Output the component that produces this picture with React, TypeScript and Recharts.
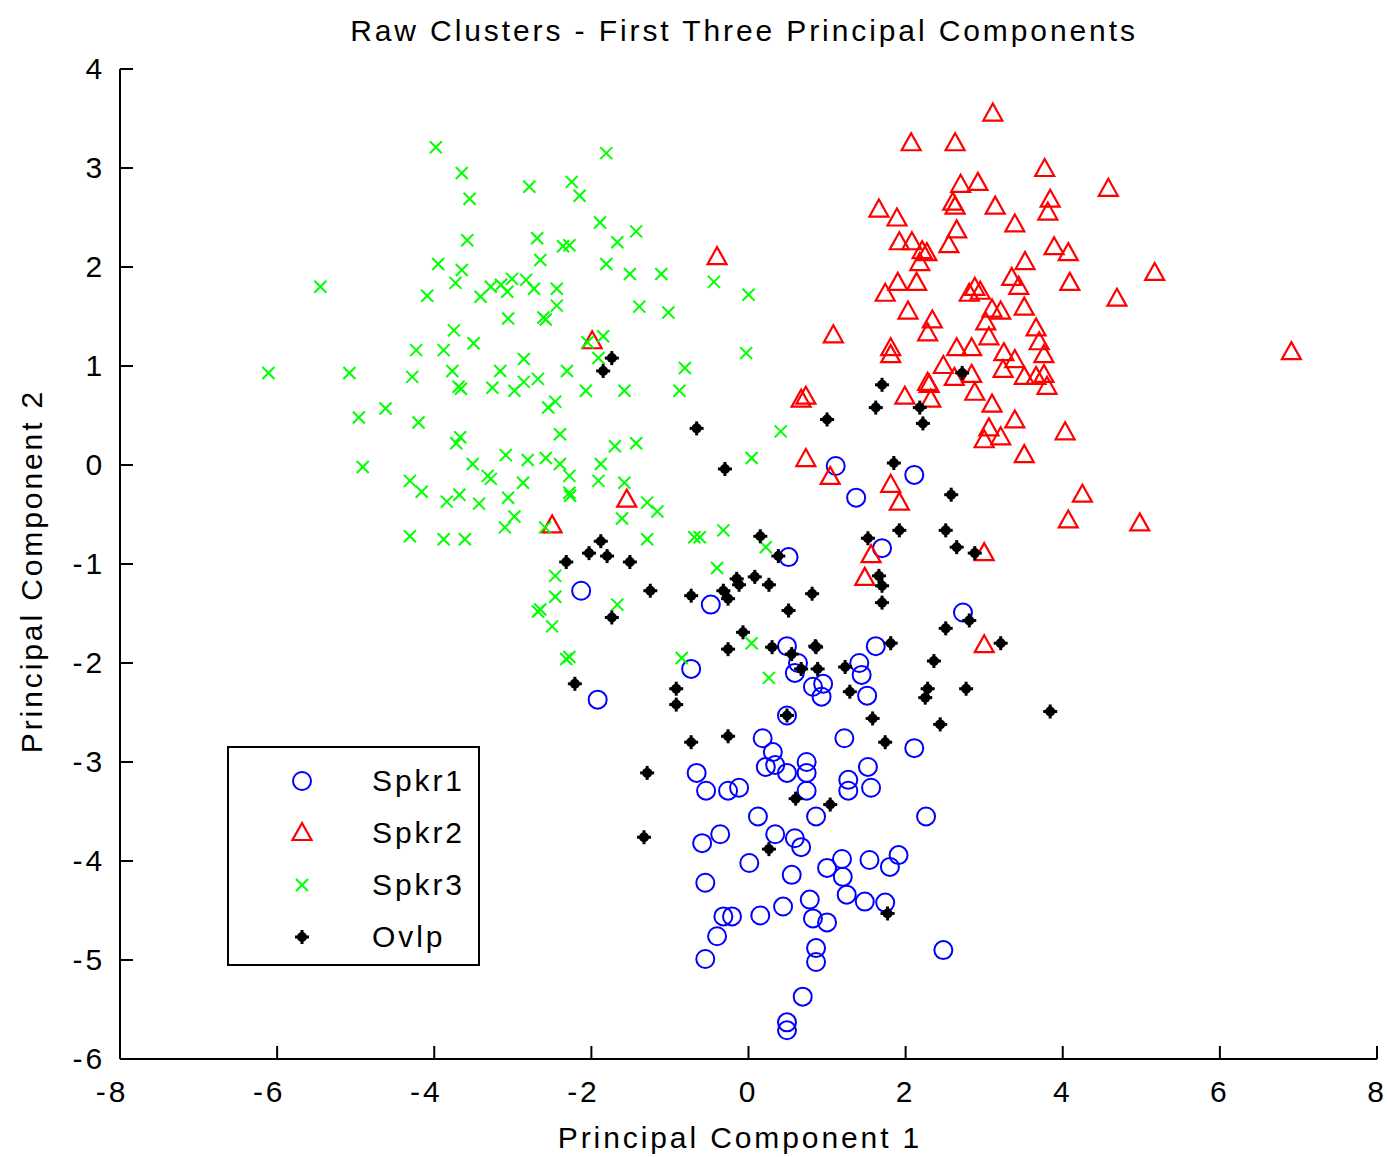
import React from 'react';
import { ScatterChart, Scatter, XAxis, YAxis } from 'recharts';

const xTicks = [-8, -6, -4, -2, 0, 2, 4, 6, 8];
const yTicks = [-6, -5, -4, -3, -2, -1, 0, 1, 2, 3, 4];
const seriesNames = ['Spkr1', 'Spkr2', 'Spkr3', 'Ovlp'];
const titleText = 'Raw Clusters - First Three Principal Components';
const xLabelText = 'Principal Component 1';
const yLabelText = 'Principal Component 2';

const spkr1: [number, number][] = [
  [1.11, -0.01], [2.11, -0.1], [1.37, -0.33], [1.7, -0.84], [0.51, -0.93], [2.73, -1.49],
  [-2.13, -1.27], [-1.92, -2.37], [-0.48, -1.41], [0.49, -1.83], [1.62, -1.83], [-0.73, -2.06],
  [0.63, -2.0], [0.59, -2.1], [1.41, -2.0], [1.44, -2.12], [0.82, -2.24], [0.95, -2.21],
  [0.93, -2.34], [1.51, -2.33], [0.49, -2.53], [0.18, -2.76], [1.22, -2.76], [2.11, -2.86],
  [0.31, -2.9], [0.74, -3.0], [0.22, -3.05], [0.34, -3.03], [0.49, -3.11], [0.74, -3.11],
  [-0.66, -3.11], [-0.54, -3.29], [-0.26, -3.29], [-0.12, -3.26], [0.74, -3.29], [1.27, -3.18],
  [1.27, -3.29], [1.52, -3.05], [1.56, -3.26], [0.12, -3.55], [0.86, -3.55], [2.26, -3.55],
  [-0.59, -3.82], [-0.36, -3.73], [0.34, -3.73], [0.59, -3.77], [0.67, -3.86], [0.01, -4.02],
  [0.55, -4.14], [1.0, -4.07], [1.19, -3.98], [1.2, -4.16], [1.25, -4.34], [1.54, -3.99],
  [1.8, -4.06], [1.91, -3.94], [-0.55, -4.22], [0.78, -4.39], [1.48, -4.41], [1.74, -4.42],
  [-0.32, -4.56], [-0.21, -4.56], [0.15, -4.55], [0.44, -4.46], [0.82, -4.58], [1.0, -4.62],
  [-0.4, -4.76], [-0.55, -4.99], [0.86, -4.88], [0.86, -5.02], [2.48, -4.9], [0.69, -5.37],
  [0.49, -5.63], [0.49, -5.71],
];

const spkr2: [number, number][] = [
  [3.11, 3.55], [2.07, 3.25], [2.63, 3.25], [3.77, 2.99], [4.58, 2.79], [2.7, 2.83],
  [2.92, 2.85], [2.63, 2.61], [2.6, 2.65], [3.14, 2.61], [3.84, 2.68], [3.81, 2.55],
  [1.66, 2.58], [1.89, 2.49], [3.39, 2.43], [2.65, 2.37], [2.55, 2.22], [1.92, 2.25],
  [2.08, 2.25], [2.27, 2.14], [2.21, 2.16], [2.18, 2.04], [3.89, 2.2], [4.07, 2.14],
  [3.52, 2.05], [3.35, 1.89], [3.44, 1.8], [4.09, 1.84], [5.17, 1.94], [4.69, 1.68],
  [1.9, 1.84], [2.14, 1.84], [1.74, 1.73], [2.88, 1.79], [2.81, 1.73], [2.95, 1.75],
  [2.03, 1.55], [2.34, 1.46], [2.28, 1.33], [3.1, 1.57], [3.21, 1.55], [3.02, 1.44],
  [3.51, 1.59], [3.66, 1.38], [3.7, 1.24], [3.76, 1.11], [3.06, 1.29], [1.08, 1.31],
  [1.81, 1.18], [1.81, 1.11], [2.65, 1.18], [2.84, 1.18], [3.25, 1.13], [3.39, 1.06],
  [2.48, 1.0], [3.24, 0.96], [2.84, 0.91], [2.62, 0.88], [3.51, 0.89], [3.66, 0.89],
  [3.76, 0.91], [2.28, 0.83], [6.91, 1.14], [3.8, 0.79], [0.73, 0.69], [0.67, 0.66],
  [1.99, 0.69], [2.3, 0.81], [2.32, 0.66], [2.88, 0.73], [3.1, 0.61], [3.39, 0.45],
  [3.06, 0.37], [3.21, 0.28], [3.0, 0.25], [3.51, 0.1], [4.03, 0.33], [4.25, -0.3],
  [4.07, -0.56], [4.98, -0.59], [3.0, -0.89], [0.73, 0.06], [1.04, -0.12], [1.81, -0.2],
  [1.92, -0.38], [1.56, -0.91], [1.48, -1.14], [3.0, -1.82], [-0.4, 2.1], [-1.99, 1.25],
  [-1.55, -0.35], [-2.5, -0.61],
];

const spkr3: [number, number][] = [
  [-3.98, 3.21], [-1.81, 3.15], [-3.65, 2.95], [-3.55, 2.69], [-2.79, 2.81], [-2.25, 2.86],
  [-2.15, 2.72], [-1.89, 2.45], [-1.43, 2.36], [-1.67, 2.25], [-3.58, 2.27], [-2.69, 2.29],
  [-2.36, 2.21], [-2.28, 2.22], [-3.95, 2.03], [-3.65, 1.97], [-2.65, 2.07], [-1.81, 2.03],
  [-1.51, 1.93], [-1.11, 1.93], [-0.44, 1.85], [0.0, 1.72], [-5.45, 1.8], [-4.09, 1.71],
  [-3.73, 1.84], [-3.41, 1.7], [-3.28, 1.8], [-3.15, 1.82], [-3.07, 1.75], [-3.01, 1.88],
  [-2.83, 1.87], [-2.73, 1.78], [-2.44, 1.78], [-2.44, 1.61], [-2.61, 1.49], [-2.58, 1.47],
  [-3.06, 1.48], [-1.39, 1.6], [-1.02, 1.54], [-1.85, 1.3], [-3.75, 1.36], [-3.5, 1.23],
  [-4.23, 1.16], [-3.88, 1.16], [-2.86, 1.07], [-2.05, 1.24], [-0.03, 1.13], [-1.91, 1.08],
  [-6.11, 0.93], [-5.08, 0.93], [-4.28, 0.89], [-3.77, 0.95], [-3.69, 0.79], [-3.66, 0.77],
  [-3.16, 0.95], [-3.26, 0.78], [-2.98, 0.75], [-2.86, 0.84], [-2.68, 0.87], [-2.31, 0.95],
  [-2.07, 0.75], [-1.58, 0.75], [-0.81, 0.98], [-0.88, 0.75], [-4.96, 0.48], [-4.62, 0.57],
  [-4.2, 0.43], [-2.55, 0.58], [-2.46, 0.64], [-2.4, 0.31], [-3.72, 0.22], [-3.67, 0.28],
  [-1.7, 0.19], [-1.43, 0.22], [0.41, 0.34], [0.04, 0.07], [-4.91, -0.02], [-3.51, 0.01],
  [-3.09, 0.1], [-2.81, 0.05], [-2.58, 0.07], [-2.4, 0.01], [-1.88, 0.01], [-4.31, -0.16],
  [-4.16, -0.27], [-3.84, -0.37], [-3.68, -0.3], [-3.43, -0.39], [-3.32, -0.11], [-3.28, -0.14],
  [-3.06, -0.33], [-2.87, -0.18], [-2.98, -0.52], [-3.1, -0.63], [-2.28, -0.11], [-2.28, -0.28],
  [-2.27, -0.31], [-1.91, -0.16], [-1.58, -0.18], [-1.29, -0.38], [-1.16, -0.47], [-1.61, -0.54],
  [-4.31, -0.72], [-3.88, -0.75], [-3.61, -0.75], [-1.29, -0.75], [-0.62, -0.73], [-0.69, -0.73],
  [-0.32, -0.66], [0.22, -0.83], [-0.4, -1.04], [-2.59, -0.63], [-2.46, -1.12], [-2.46, -1.33],
  [-2.68, -1.48], [-2.65, -1.46], [-2.5, -1.63], [-1.67, -1.41], [0.04, -1.8], [-2.32, -1.96],
  [-2.28, -1.94], [-0.85, -1.95], [0.26, -2.15],
];

const ovlp: [number, number][] = [
  [-1.74, 1.08], [-1.85, 0.95], [-0.66, 0.37], [-0.3, -0.04], [1.0, 0.46], [1.7, 0.81],
  [1.62, 0.58], [2.22, 0.42], [2.18, 0.58], [2.72, 0.93], [1.85, 0.02], [2.58, -0.3],
  [1.92, -0.66], [2.51, -0.66], [2.65, -0.83], [2.88, -0.89], [1.52, -0.74], [1.66, -1.12],
  [1.7, -1.22], [1.7, -1.39], [0.81, -1.3], [0.51, -1.47], [2.81, -1.57], [2.51, -1.65],
  [3.21, -1.8], [2.36, -1.98], [1.81, -1.8], [0.85, -1.83], [3.84, -2.49], [2.77, -2.26],
  [2.28, -2.26], [2.25, -2.35], [-1.88, -0.77], [-2.03, -0.89], [-1.8, -0.92], [-2.32, -0.98],
  [-1.51, -0.98], [-1.25, -1.27], [-1.74, -1.54], [-2.21, -2.21], [0.15, -0.72], [0.38, -0.92],
  [-0.15, -1.15], [0.08, -1.13], [-0.12, -1.21], [0.26, -1.21], [-0.32, -1.27], [-0.26, -1.35],
  [-0.73, -1.32], [-0.07, -1.69], [-0.26, -1.86], [0.3, -1.84], [0.86, -1.84], [0.55, -1.91],
  [0.67, -2.06], [0.88, -2.06], [1.23, -2.04], [1.29, -2.29], [-0.92, -2.26], [-0.92, -2.42],
  [0.49, -2.53], [1.58, -2.56], [2.44, -2.62], [-0.73, -2.8], [-0.26, -2.74], [1.74, -2.8],
  [-1.29, -3.11], [0.6, -3.37], [1.04, -3.43], [-1.33, -3.76], [0.26, -3.88], [1.77, -4.53],
];

const toRows = (pts: [number, number][]) => pts.map(([x, y]) => ({ x, y }));

const FONT = "'Liberation Sans', Arial, Helvetica, sans-serif";
const FS = 30;
const LS = 2.9;

const BLUE = '#0000ff';
const RED = '#ff0000';
const GREEN = '#00ff00';
const BLACK = '#000000';

const CircleMark = ({ cx, cy }: any) => (
  <circle cx={cx} cy={cy} r={9} fill="none" stroke={BLUE} strokeWidth={2} />
);
const TriangleMark = ({ cx, cy }: any) => (
  <polygon
    points={`${cx},${cy - 10} ${cx + 9.5},${cy + 7} ${cx - 9.5},${cy + 7}`}
    fill="none"
    stroke={RED}
    strokeWidth={2.2}
  />
);
const XMark = ({ cx, cy }: any) => (
  <g stroke={GREEN} strokeWidth={2}>
    <line x1={cx - 6} y1={cy - 6} x2={cx + 6} y2={cy + 6} />
    <line x1={cx - 6} y1={cy + 6} x2={cx + 6} y2={cy - 6} />
  </g>
);
const DotMark = ({ cx, cy }: any) => (
  <g fill={BLACK}>
    <circle cx={cx} cy={cy} r={5} />
    <rect x={cx - 7} y={cy - 1.5} width={14} height={3} />
    <rect x={cx - 1.5} y={cy - 7} width={3} height={14} />
  </g>
);

const XTick = ({ x, y, payload }: any) => {
  const v = payload.value;
  return (
    <g>
      <line x1={x} y1={y} x2={x} y2={y - 13} stroke={BLACK} strokeWidth={2} />
      <text
        x={v < 0 ? x - 8 : x}
        y={y + 43}
        textAnchor="middle"
        fontFamily={FONT}
        fontSize={FS}
        letterSpacing={LS}
        fill={BLACK}
      >
        {v}
      </text>
    </g>
  );
};

const YTick = ({ x, y, payload }: any) => (
  <g>
    <line x1={x} y1={y} x2={x + 13} y2={y} stroke={BLACK} strokeWidth={2} />
    <text
      x={x - 15}
      y={y + 10}
      textAnchor="end"
      fontFamily={FONT}
      fontSize={FS}
      letterSpacing={LS}
      fill={BLACK}
    >
      {payload.value}
    </text>
  </g>
);

const legendMarks = [CircleMark, TriangleMark, XMark, DotMark];

const LegendBox = () => (
  <div
    style={{
      position: 'absolute',
      left: 227,
      top: 746,
      width: 253,
      height: 220,
      border: '2px solid #000',
      background: '#fff',
      boxSizing: 'border-box',
    }}
  >
    {seriesNames.map((name, i) => {
      const Mark = legendMarks[i];
      return (
        <div
          key={name}
          style={{ position: 'absolute', left: 0, top: 12 + i * 52, height: 44, width: 248 }}
        >
          <svg width={100} height={44} style={{ position: 'absolute', left: 0, top: 0 }}>
            <Mark cx={73} cy={21} />
          </svg>
          <span
            style={{
              position: 'absolute',
              left: 143,
              top: 1,
              fontFamily: FONT,
              fontSize: FS,
              letterSpacing: LS,
              lineHeight: '40px',
              color: '#000',
              whiteSpace: 'nowrap',
            }}
          >
            {name}
          </span>
        </div>
      );
    })}
  </div>
);

export default function App() {
  return (
    <div style={{ position: 'absolute', left: 0, top: 0, width: 1388, height: 1157, background: '#fff' }}>
      <ScatterChart
        width={1388}
        height={1157}
        margin={{ top: 69, right: 11, bottom: 0, left: 0 }}
      >
        <XAxis
          type="number"
          dataKey="x"
          domain={[-8, 8]}
          ticks={xTicks}
          interval={0}
          allowDataOverflow
          height={98}
          tickSize={0}
          tickMargin={0}
          tickLine={false}
          axisLine={{ stroke: BLACK, strokeWidth: 2 }}
          tick={<XTick />}
        />
        <YAxis
          type="number"
          dataKey="y"
          domain={[-6, 4]}
          ticks={yTicks}
          interval={0}
          allowDataOverflow
          width={120}
          tickSize={0}
          tickMargin={0}
          tickLine={false}
          axisLine={{ stroke: BLACK, strokeWidth: 2 }}
          tick={<YTick />}
        />
        <Scatter name="Spkr1" data={toRows(spkr1)} shape={<CircleMark />} isAnimationActive={false} />
        <Scatter name="Spkr2" data={toRows(spkr2)} shape={<TriangleMark />} isAnimationActive={false} />
        <Scatter name="Spkr3" data={toRows(spkr3)} shape={<XMark />} isAnimationActive={false} />
        <Scatter name="Ovlp" data={toRows(ovlp)} shape={<DotMark />} isAnimationActive={false} />
      </ScatterChart>
      <LegendBox />
      <svg
        width={1388}
        height={1157}
        style={{ position: 'absolute', left: 0, top: 0, pointerEvents: 'none' }}
      >
        <text x={744} y={41} textAnchor="middle" fontFamily={FONT} fontSize={FS} letterSpacing={LS} fill={BLACK}>
          {titleText}
        </text>
        <text x={740} y={1148} textAnchor="middle" fontFamily={FONT} fontSize={FS} letterSpacing={LS} fill={BLACK}>
          {xLabelText}
        </text>
        <text
          x={42}
          y={571}
          textAnchor="middle"
          transform="rotate(-90 42 571)"
          fontFamily={FONT}
          fontSize={FS}
          letterSpacing={LS}
          fill={BLACK}
        >
          {yLabelText}
        </text>
      </svg>
    </div>
  );
}
